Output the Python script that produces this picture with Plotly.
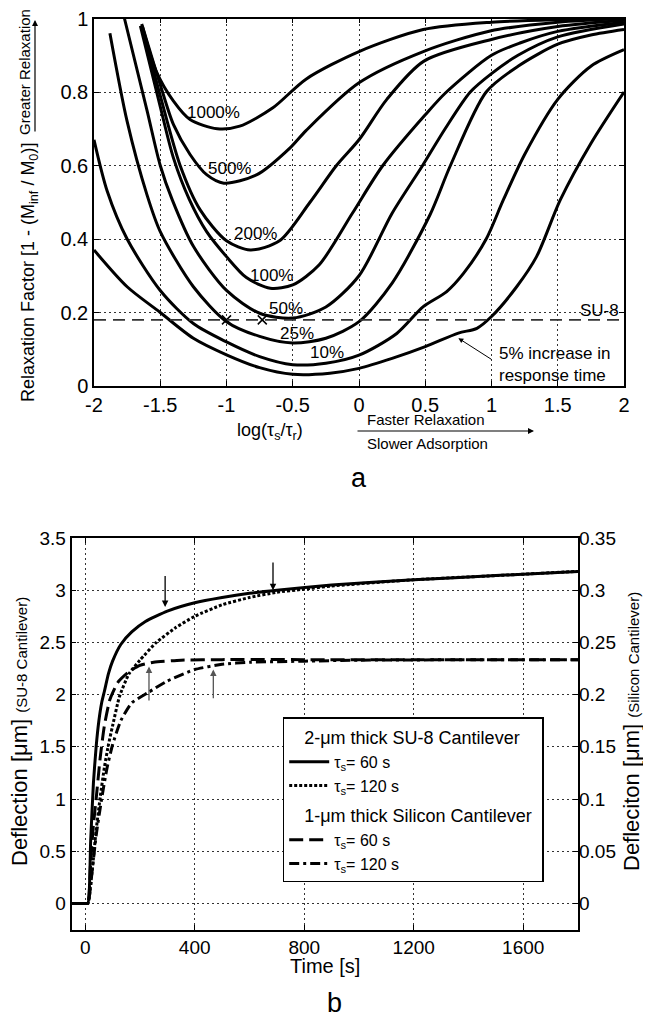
import plotly.graph_objects as go

OFF = 8                 # the plot div sits 8 px inside the page (default body margin)
FW, FH = 643, 1013      # figure size so the figure ends at the 651x1021 window edges
FONT = "Liberation Sans, Arial, Helvetica, sans-serif"

# ---------------- panel (a) data ----------------
TOP_X_TICKS = [-2, -1.5, -1, -0.5, 0, 0.5, 1, 1.5, 2]
TOP_X_TICKTEXT = ["-2", "-1.5", "-1", "-0.5", "0", "0.5", "1", "1.5", "2"]
TOP_Y_TICKS = [0, 0.2, 0.4, 0.6, 0.8, 1]
TOP_Y_TICKTEXT = ["0", "0.2", "0.4", "0.6", "0.8", "1"]

X_1000 = [-1.64, -1.53, -1.40, -1.275, -1.07, -0.90, -0.65, -0.40, 0.0, 0.485, 1.0, 1.5, 2.0]
Y_1000 = [0.985, 0.856, 0.775, 0.725, 0.700, 0.707, 0.757, 0.835, 0.91, 0.97, 0.99, 0.997, 1.0]

X_500 = [-1.635, -1.5, -1.40, -1.275, -1.15, -1.02, -0.77, -0.52, -0.40, 0.0, 0.485, 0.99, 1.5, 2.0]
Y_500 = [0.98, 0.82, 0.711, 0.63, 0.575, 0.552, 0.575, 0.648, 0.695, 0.825, 0.91, 0.966, 0.99, 1.0]

X_200 = [-1.64, -1.5, -1.35, -1.2, -1.0, -0.82, -0.6, -0.37, -0.17, 0.0, 0.21, 0.49, 1.0, 1.5, 2.0]
Y_200 = [0.98, 0.79, 0.60, 0.48, 0.395, 0.37, 0.395, 0.50, 0.60, 0.67, 0.78, 0.884, 0.943, 0.978, 0.995]

X_100 = [-1.65, -1.5, -1.4, -1.28, -1.15, -1.0, -0.85, -0.67, -0.5, -0.3, -0.05, 0.18, 0.5, 0.66, 1.0, 1.22, 1.5, 2.0]
Y_100 = [0.98, 0.76, 0.62, 0.507, 0.42, 0.352, 0.295, 0.266, 0.275, 0.33, 0.47, 0.6, 0.738, 0.8, 0.9, 0.934, 0.965, 0.99]

X_50 = [-1.77, -1.6, -1.5, -1.41, -1.25, -1.0, -0.75, -0.5, -0.25, 0.0, 0.25, 0.48, 0.65, 0.84, 1.0, 1.2, 1.5, 2.0]
Y_50 = [1.0, 0.75, 0.6, 0.507, 0.38, 0.26, 0.198, 0.185, 0.215, 0.3, 0.47, 0.6, 0.7, 0.8, 0.85, 0.9, 0.95, 0.985]

X_25 = [-1.88, -1.75, -1.6, -1.5, -1.25, -1.0, -0.75, -0.5, -0.25, 0.0, 0.25, 0.536, 0.69, 0.96, 1.2, 1.5, 1.75, 2.0]
Y_25 = [0.96, 0.72, 0.52, 0.42, 0.27, 0.175, 0.135, 0.117, 0.13, 0.175, 0.28, 0.466, 0.6, 0.8, 0.87, 0.93, 0.955, 0.97]

X_10 = [-2.0, -1.9, -1.75, -1.5, -1.25, -1.0, -0.75, -0.5, -0.25, 0.0, 0.285, 0.485, 0.662, 0.79, 0.96, 1.09, 1.25, 1.5, 1.75, 2.0]
Y_10 = [0.67, 0.53, 0.40, 0.26, 0.17, 0.12, 0.08, 0.058, 0.062, 0.084, 0.143, 0.216, 0.257, 0.307, 0.40, 0.507, 0.63, 0.78, 0.87, 0.915]

X_5 = [-2.0, -1.75, -1.5, -1.25, -1.0, -0.75, -0.5, -0.22, 0.0, 0.25, 0.5, 0.75, 0.89, 1.0, 1.19, 1.34, 1.52, 1.75, 2.0]
Y_5 = [0.37, 0.27, 0.2, 0.13, 0.085, 0.05, 0.032, 0.035, 0.048, 0.075, 0.107, 0.144, 0.157, 0.189, 0.27, 0.352, 0.507, 0.66, 0.80]

CURVES = [(X_1000, Y_1000), (X_500, Y_500), (X_200, Y_200), (X_100, Y_100),
          (X_50, Y_50), (X_25, Y_25), (X_10, Y_10), (X_5, Y_5)]

CURVE_LABELS = ["1000%", "500%", "200%", "100%", "50%", "25%", "10%"]
CURVE_LABEL_X = [-1.10, -0.98, -0.78, -0.66, -0.55, -0.47, -0.245]
CURVE_LABEL_Y = [0.743, 0.593, 0.415, 0.30, 0.212, 0.144, 0.09]

SU8_LEVEL = 0.18
CROSS_X = [-1.0, -0.73]
CROSS_Y = [0.18, 0.18]

# ---------------- panel (b) data ----------------
BOT_X_TICKS = [0, 400, 800, 1200, 1600]
BOT_X_TICKTEXT = ["0", "400", "800", "1200", "1600"]
LEFT_TICKS = [0, 0.5, 1, 1.5, 2, 2.5, 3, 3.5]
LEFT_TICKTEXT = ["0", "0.5", "1", "1.5", "2", "2.5", "3", "3.5"]
RIGHT_TICKS = [0, 0.05, 0.1, 0.15, 0.2, 0.25, 0.3, 0.35]
RIGHT_TICKTEXT = ["0", "0.05", "0.1", "0.15", "0.2", "0.25", "0.3", "0.35"]

SU8_60_T = [-50, 0, 10, 20, 30, 40, 50, 60, 70, 85, 100, 130, 170, 220, 300, 400, 500, 600, 700, 900, 1200, 1500, 1800]
SU8_60_Y = [0, 0, 0, 0.6, 1.15, 1.5, 1.75, 1.92, 2.03, 2.2, 2.32, 2.48, 2.6, 2.7, 2.8, 2.88, 2.93, 2.97, 3.0, 3.05, 3.1, 3.14, 3.18]

SU8_120_T = [-50, 0, 10, 25, 40, 55, 70, 85, 100, 125, 160, 200, 260, 330, 400, 500, 600, 700, 800, 900, 1200, 1500, 1800]
SU8_120_Y = [0, 0, 0, 0.3, 0.7, 1.02, 1.3, 1.52, 1.7, 1.98, 2.2, 2.33, 2.5, 2.64, 2.75, 2.86, 2.93, 2.98, 3.01, 3.04, 3.1, 3.14, 3.18]

SI_60_T = [-50, 0, 10, 20, 30, 40, 55, 70, 90, 120, 160, 200, 250, 350, 500, 800, 1200, 1800]
SI_60_Y = [0, 0, 0, 0.04, 0.075, 0.1, 0.14, 0.17, 0.195, 0.212, 0.222, 0.228, 0.231, 0.233, 0.2335, 0.2335, 0.2335, 0.2335]

SI_120_T = [-50, 0, 10, 25, 40, 60, 80, 100, 130, 170, 230, 300, 400, 500, 600, 800, 1000, 1800]
SI_120_Y = [0, 0, 0, 0.03, 0.065, 0.1, 0.13, 0.152, 0.175, 0.192, 0.202, 0.213, 0.224, 0.229, 0.231, 0.232, 0.233, 0.2335]


def fx(px):
    """page pixel x -> paper fraction"""
    return (px - OFF) / FW


def fy(py):
    """page pixel y -> paper fraction"""
    return 1 - (py - OFF) / FH


fig = go.Figure()

# panel (a) curves
for cx, cy in CURVES:
    fig.add_trace(go.Scatter(x=cx, y=cy, mode="lines", xaxis="x", yaxis="y",
                             line=dict(color="black", width=3, shape="spline", smoothing=0.8),
                             showlegend=False, hoverinfo="skip"))
fig.add_trace(go.Scatter(x=CROSS_X, y=CROSS_Y, mode="markers", xaxis="x", yaxis="y",
                         marker=dict(symbol="x-thin-open", size=9, color="black",
                                     line=dict(color="black", width=1.5)),
                         showlegend=False, hoverinfo="skip"))

# panel (b) curves
fig.add_trace(go.Scatter(x=SU8_60_T, y=SU8_60_Y, mode="lines", xaxis="x2", yaxis="y2",
                         name="τ<sub>s</sub>= 60 s", legendgroup="su8",
                         legendgrouptitle=dict(text="&nbsp;&nbsp;&nbsp;2-μm thick SU-8 Cantilever"),
                         line=dict(color="black", width=3, shape="spline", smoothing=0.5)))
fig.add_trace(go.Scatter(x=SU8_120_T, y=SU8_120_Y, mode="lines", xaxis="x2", yaxis="y2",
                         name="τ<sub>s</sub>= 120 s", legendgroup="su8",
                         line=dict(color="black", width=3, dash="3px,2px", shape="spline", smoothing=0.5)))
fig.add_trace(go.Scatter(x=SI_60_T, y=SI_60_Y, mode="lines", xaxis="x2", yaxis="y3",
                         name="τ<sub>s</sub>= 60 s", legendgroup="si",
                         legendgrouptitle=dict(text="&nbsp;&nbsp;&nbsp;1-μm thick Silicon Cantilever"),
                         line=dict(color="black", width=3, dash="14px,6px", shape="spline", smoothing=0.5)))
fig.add_trace(go.Scatter(x=SI_120_T, y=SI_120_Y, mode="lines", xaxis="x2", yaxis="y3",
                         name="τ<sub>s</sub>= 120 s", legendgroup="si",
                         line=dict(color="black", width=3, dash="10px,4px,3px,4px", shape="spline", smoothing=0.5)))

fig.add_shape(type="line", xref="x domain", x0=0, x1=1, yref="y", y0=SU8_LEVEL, y1=SU8_LEVEL,
              line=dict(color="#333", width=1.6, dash="12px,7px"))

axis_common = dict(showline=True, linecolor="black", linewidth=1.5, mirror="ticks",
                   ticks="inside", ticklen=5, tickcolor="black", tickwidth=1,
                   showgrid=True, gridcolor="#333", gridwidth=1, griddash="2px,3px",
                   zeroline=False, automargin=False, ticklabeloverflow="allow")
TOP_TICKFONT = dict(family=FONT, size=20, color="black")
BOT_TICKFONT = dict(family=FONT, size=19, color="black")

fig.update_layout(
    width=FW, height=FH, autosize=False,
    margin=dict(l=0, r=0, t=0, b=0, pad=0, autoexpand=False),
    paper_bgcolor="white", plot_bgcolor="white",
    font=dict(family=FONT, color="black"),
    xaxis=dict(domain=[fx(94), fx(624)], anchor="y", range=[-2, 2], tickfont=TOP_TICKFONT,
               tickmode="array", tickvals=TOP_X_TICKS, ticktext=TOP_X_TICKTEXT, **axis_common),
    yaxis=dict(domain=[fy(386), fy(18.5)], anchor="x", range=[0, 1], tickfont=TOP_TICKFONT,
               tickmode="array", tickvals=TOP_Y_TICKS, ticktext=TOP_Y_TICKTEXT, **axis_common),
    xaxis2=dict(domain=[fx(71.5), fx(578)], anchor="y2", range=[-50, 1800], tickfont=BOT_TICKFONT,
                tickmode="array", tickvals=BOT_X_TICKS, ticktext=BOT_X_TICKTEXT, **axis_common),
    yaxis2=dict(domain=[fy(929.5), fy(538)], anchor="x2", range=[-0.25, 3.5], tickfont=BOT_TICKFONT,
                tickmode="array", tickvals=LEFT_TICKS, ticktext=LEFT_TICKTEXT, **axis_common),
    yaxis3=dict(overlaying="y2", side="right", anchor="x2", range=[-0.025, 0.35],
                tickmode="array", tickvals=RIGHT_TICKS, ticktext=RIGHT_TICKTEXT,
                showline=False, ticks="inside", ticklen=5, tickcolor="black",
                showgrid=False, zeroline=False, automargin=False, ticklabeloverflow="allow",
                tickfont=BOT_TICKFONT),
    legend=dict(x=fx(282.7), y=fy(717), xanchor="left", yanchor="top",
                bgcolor="white", bordercolor="black", borderwidth=1.5,
                font=dict(family=FONT, size=16, color="black"),
                grouptitlefont=dict(family=FONT, size=18, color="black"),
                traceorder="grouped", tracegroupgap=4, itemwidth=40),
)


def ptxt(px, py, text, size, angle=0, xanchor="center"):
    return dict(x=fx(px), y=fy(py), xref="paper", yref="paper", text=text,
                showarrow=False, textangle=angle, xanchor=xanchor, yanchor="middle",
                font=dict(size=size, family=FONT, color="black"))


ann = []
for txt, lx, ly in zip(CURVE_LABELS, CURVE_LABEL_X, CURVE_LABEL_Y):
    ann.append(dict(x=lx, y=ly, xref="x", yref="y", text=txt, showarrow=False,
                    xanchor="center", yanchor="middle",
                    font=dict(size=17, family=FONT, color="black")))
ann += [
    dict(x=1.98, y=0.205, xref="x", yref="y", text="SU-8", showarrow=False,
         xanchor="right", yanchor="middle", font=dict(size=17, family=FONT)),
    dict(x=1.04, y=0.058, xref="x", yref="y", text="5% increase in<br>response time", showarrow=False,
         xanchor="left", yanchor="middle", align="left", font=dict(size=17, family=FONT)),
    dict(x=0.75, y=0.13, xref="x", yref="y", ax=1.01, ay=0.07, axref="x", ayref="y", text="",
         showarrow=True, arrowhead=2, arrowsize=1, arrowwidth=1, arrowcolor="black"),
    # panel (a) titles
    ptxt(30, 273, "Relaxation Factor [1 - (M<sub>inf</sub> / M<sub>0</sub>)]", 18, -90),
    ptxt(24, 72, "Greater Relaxation", 15, -90),
    dict(x=fx(35), y=fy(20), xref="paper", yref="paper", ax=0, ay=113, text="",
         showarrow=True, arrowhead=2, arrowsize=1, arrowwidth=1.2, arrowcolor="black"),
    ptxt(270, 432, "log(τ<sub>s</sub>/τ<sub>r</sub>)", 18),
    ptxt(365, 419, "Faster Relaxation", 15, xanchor="left"),
    ptxt(365, 443, "Slower Adsorption", 15, xanchor="left"),
    dict(x=fx(534), y=fy(431), xref="paper", yref="paper", ax=-178, ay=0, text="",
         showarrow=True, arrowhead=2, arrowsize=1, arrowwidth=1.2, arrowcolor="black"),
    ptxt(359, 478, "a", 27),
    # panel (b) titles
    ptxt(19, 732, "Deflection [μm] <span style='font-size:15px'>(SU-8 Cantilever)</span>", 22, -90),
    ptxt(631, 732, "Defleciton [μm] <span style='font-size:15px'>(Silicon Cantilever)</span>", 22, -90),
    ptxt(325, 966, "Time [s]", 20),
    ptxt(334, 1003, "b", 27),
    # arrows in panel (b)
    dict(x=292, y=2.84, ax=292, ay=3.15, xref="x2", yref="y2", axref="x2", ayref="y2", text="",
         showarrow=True, arrowhead=2, arrowsize=1, arrowwidth=1.3, arrowcolor="black"),
    dict(x=686, y=3.0, ax=686, ay=3.28, xref="x2", yref="y2", axref="x2", ayref="y2", text="",
         showarrow=True, arrowhead=2, arrowsize=1, arrowwidth=1.3, arrowcolor="black"),
    dict(x=233, y=2.27, ax=233, ay=1.93, xref="x2", yref="y2", axref="x2", ayref="y2", text="",
         showarrow=True, arrowhead=2, arrowsize=1, arrowwidth=1.3, arrowcolor="#555"),
    dict(x=468, y=2.24, ax=468, ay=1.95, xref="x2", yref="y2", axref="x2", ayref="y2", text="",
         showarrow=True, arrowhead=2, arrowsize=1, arrowwidth=1.3, arrowcolor="#555"),
]
fig.update_layout(annotations=ann)

fig.write_html("out.html")
